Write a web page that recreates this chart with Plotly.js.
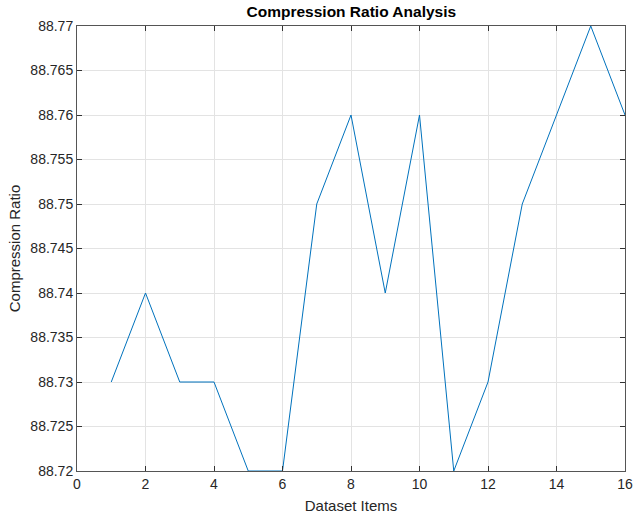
<!DOCTYPE html>
<html>
<head>
<meta charset="utf-8">
<script src="https://cdn.plot.ly/plotly-3.0.1.min.js"></script>
<style>html,body{margin:0;padding:0;background:#fff;}#chart{width:633px;height:514px;}</style>
</head>
<body>
<div id="chart"></div>
<script>
const items = [1,2,3,4,5,6,7,8,9,10,11,12,13,14,15,16];
const ratios = [88.73,88.74,88.73,88.73,88.72,88.72,88.75,88.76,88.74,88.76,88.72,88.73,88.75,88.76,88.77,88.76];
const yTicks = [88.72,88.725,88.73,88.735,88.74,88.745,88.75,88.755,88.76,88.765,88.77];
const yTickText = ['88.72','88.725','88.73','88.735','88.74','88.745','88.75','88.755','88.76','88.765','88.77'];

const font = 'Liberation Sans, Arial, Helvetica, sans-serif';
const axisCommon = {
  showline: true, linecolor: '#555555', linewidth: 1, mirror: 'ticks',
  ticks: 'inside', ticklen: 5, tickcolor: '#333333', tickwidth: 1,
  showgrid: true, gridcolor: '#e3e3e3', gridwidth: 1, zeroline: false,
  tickfont: {family: font, size: 14, color: '#262626'}
};
Plotly.newPlot('chart', [{
  x: items, y: ratios, type: 'scatter', mode: 'lines',
  line: {color: '#0072BD', width: 1}
}], {
  width: 633, height: 514,
  margin: {l: 77, r: 8, t: 26, b: 43},
  paper_bgcolor: '#fff', plot_bgcolor: '#fff',
  showlegend: false,
  title: {text: '<b>Compression Ratio Analysis</b>', font: {family: font, size: 15.5, color: '#000'}, x: 0.555, xanchor: 'center', y: 0.988, yanchor: 'top'},
  xaxis: Object.assign({}, axisCommon, {range: [0, 16], dtick: 2, tick0: 0,
    title: {text: 'Dataset Items', font: {family: font, size: 15, color: '#262626'}, standoff: 9}}),
  yaxis: Object.assign({}, axisCommon, {range: [88.72, 88.77], tickvals: yTicks, ticktext: yTickText,
    title: {text: 'Compression Ratio', font: {family: font, size: 15, color: '#262626'}, standoff: 6}})
}, {displayModeBar: false});
</script>
</body>
</html>
